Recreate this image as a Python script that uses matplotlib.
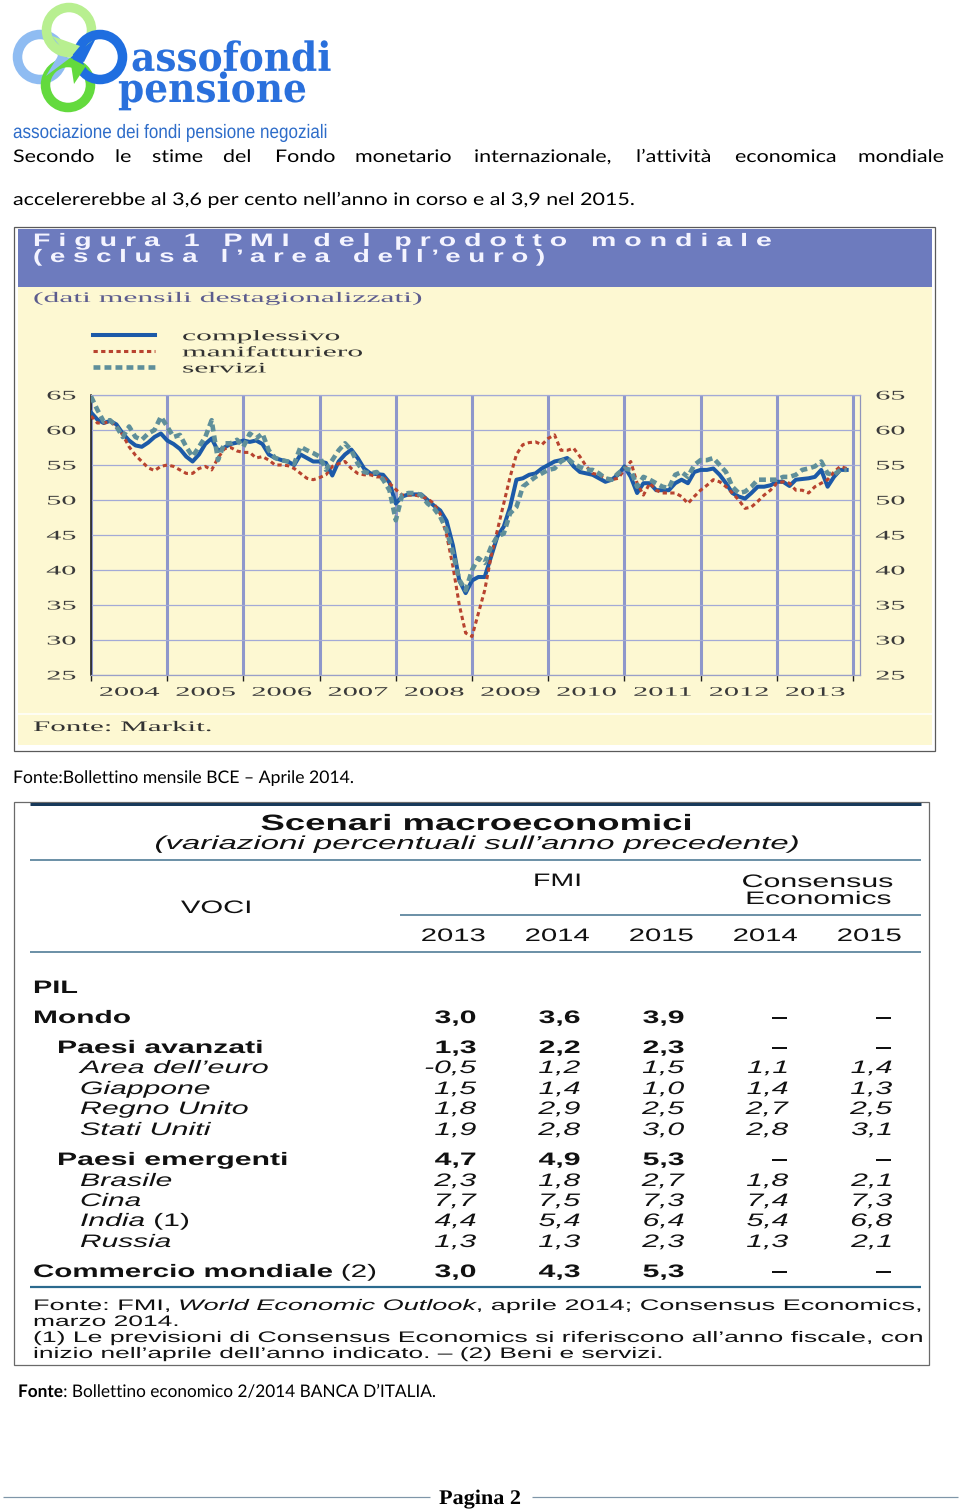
import numpy as np
import matplotlib
matplotlib.use('Agg')
import matplotlib.pyplot as plt
from matplotlib import patheffects as pe
from matplotlib.transforms import Affine2D
from matplotlib.patches import Rectangle, Circle, Polygon

# ---------------------------------------------------------------- data
years = list(range(2004, 2014))
year_labels = [str(y) for y in years]
y_ticks = [25, 30, 35, 40, 45, 50, 55, 60, 65]
legend_labels = ["complessivo", "manifatturiero", "servizi"]

complessivo = [
    62.5, 61.5, 61.0, 61.3, 60.8, 59.5, 58.5, 57.8, 57.6, 58.2, 59.0, 59.5,
    58.5, 58.0, 57.3, 56.2, 55.5, 56.5, 58.0, 58.8, 57.0, 57.5, 58.0, 58.2,
    58.5, 58.3, 58.5, 58.0, 56.5, 56.0, 55.7, 55.5, 55.0, 56.5, 56.0, 55.5,
    55.5, 55.3, 53.5, 55.5, 56.5, 57.2, 56.0, 54.5, 53.8, 53.7, 53.6, 52.5,
    49.5, 50.5, 50.8, 50.8, 50.8, 50.0, 49.2, 48.5, 47.0, 43.5, 38.5, 36.7,
    38.5, 39.0, 39.0, 41.9, 44.8, 46.2, 49.0, 52.9, 53.1, 53.6, 53.8, 54.5,
    55.0, 55.5, 55.7, 56.0, 54.8, 54.0, 53.8, 53.6, 53.1, 52.6, 52.9, 53.6,
    54.8, 53.3, 51.0, 52.4, 52.4, 51.4, 51.4, 51.4, 52.4, 52.9, 52.4, 54.0,
    54.3, 54.3, 54.5, 53.6, 52.4, 51.0, 50.5, 50.2, 51.0, 51.9, 51.9, 52.1,
    52.6, 52.6, 52.0, 52.9, 53.0, 53.1, 53.3, 54.3, 51.9, 53.3, 54.3, 54.3,
]
manifatturiero = [
    62.0, 61.0, 61.0, 61.2, 60.5, 59.3, 57.6, 56.4, 55.5, 54.6, 54.2, 54.8,
    55.0, 54.8, 54.3, 53.8, 53.8, 54.5, 54.8, 54.3, 56.0, 57.3, 57.5, 57.0,
    56.8, 56.8, 56.0, 56.2, 55.7, 55.0, 55.0, 54.9, 54.5, 53.8, 53.1, 52.9,
    53.2, 53.6, 54.8, 55.2, 55.5, 54.5, 53.8, 53.6, 53.6, 53.3, 53.3, 52.4,
    51.5, 50.7, 50.7, 50.7, 50.5, 50.2, 49.5, 48.0, 45.0, 40.5, 35.0, 31.0,
    30.5, 33.8, 37.1, 41.9, 45.7, 49.5, 53.3, 56.5, 57.9, 58.2, 58.3, 57.9,
    58.8, 59.3, 57.1, 57.1, 57.4, 56.2, 54.8, 53.8, 53.6, 53.1, 52.9, 53.1,
    54.3, 55.5, 52.4, 50.7, 52.4, 51.4, 51.0, 51.0, 51.0, 50.5, 49.5, 50.5,
    51.4, 52.1, 52.9, 52.6, 51.9, 51.0, 50.0, 48.8, 49.0, 49.8, 50.7, 51.4,
    52.4, 52.6, 52.4, 51.4, 51.4, 51.0, 51.9, 52.4, 52.9, 54.0, 54.8, 54.5,
]
servizi = [
    64.8, 62.9, 61.2, 61.4, 60.5, 59.0, 60.5, 59.0, 58.6, 59.5, 60.0, 61.9,
    60.5, 59.0, 59.3, 57.6, 56.2, 57.6, 59.0, 61.4, 55.7, 58.1, 58.1, 58.6,
    57.6, 59.5, 58.8, 59.5, 57.1, 56.0, 55.7, 55.5, 55.2, 57.6, 57.1, 56.7,
    56.2, 54.3, 55.7, 57.1, 58.1, 57.1, 55.2, 54.0, 53.8, 54.0, 52.9, 51.4,
    47.1, 50.7, 51.0, 51.0, 50.7, 49.5, 48.8, 47.6, 45.7, 42.4, 38.6, 37.1,
    40.0, 41.7, 41.0, 43.3, 44.8, 45.2, 48.1, 49.0, 51.9, 52.6, 53.3, 53.8,
    54.3, 54.5, 55.5, 56.0, 55.2, 54.7, 54.3, 54.3, 53.8, 53.1, 52.9, 53.8,
    54.5, 54.3, 51.9, 53.3, 52.9, 52.4, 51.9, 51.7, 53.6, 54.0, 53.3, 55.0,
    55.7, 55.7, 56.0, 55.0, 54.0, 51.9, 51.0, 51.2, 51.9, 52.9, 52.9, 52.9,
    52.9, 53.3, 53.3, 53.6, 54.3, 54.5, 54.8, 55.5, 53.8, 53.6, 54.3, 54.3,
]

voci = ["PIL", "Mondo", "Paesi avanzati", "Area dell’euro", "Giappone", "Regno Unito",
        "Stati Uniti", "Paesi emergenti", "Brasile", "Cina", "India", "Russia",
        "Commercio mondiale"]
voci_note = ["", "", "", "", "", "", "", "", "", "", "(1)", "", "(2)"]
voci_style = ["head", "bold", "bold", "it", "it", "it", "it", "bold", "it", "it", "it", "it", "bold"]
col_headers = ["2013", "2014", "2015", "2014", "2015"]
fmi_2013 = [None, 3.0, 1.3, -0.5, 1.5, 1.8, 1.9, 4.7, 2.3, 7.7, 4.4, 1.3, 3.0]
fmi_2014 = [None, 3.6, 2.2, 1.2, 1.4, 2.9, 2.8, 4.9, 1.8, 7.5, 5.4, 1.3, 4.3]
fmi_2015 = [None, 3.9, 2.3, 1.5, 1.0, 2.5, 3.0, 5.3, 2.7, 7.3, 6.4, 2.3, 5.3]
ce_2014 = [None, "–", "–", 1.1, 1.4, 2.7, 2.8, "–", 1.8, 7.4, 5.4, 1.3, "–"]
ce_2015 = [None, "–", "–", 1.4, 1.3, 2.5, 3.1, "–", 2.1, 7.3, 6.8, 2.1, "–"]

# ---------------------------------------------------------------- helpers
SANS = "Liberation Sans"
SERIF = "Liberation Serif"
BODY = "Lato"
W, H = 960, 1510


class Stretch(pe.AbstractPathEffect):
    """Draw text horizontally scaled by sx, keeping its alignment."""

    def __init__(self, sx, ha="left"):
        super().__init__((0.0, 0.0))
        self.sx = sx
        self.ha = ha

    def draw_path(self, renderer, gc, tpath, affine, rgbFace=None):
        M = np.array(affine.get_matrix(), dtype=float)
        ext = tpath.get_extents()
        w = ext.x1 * M[0, 0]
        M[0, 0] *= self.sx
        M[0, 1] *= self.sx
        if self.ha == "center":
            M[0, 2] -= (self.sx - 1) * w / 2
        elif self.ha == "right":
            M[0, 2] -= (self.sx - 1) * w
        renderer.draw_path(gc, tpath, Affine2D(M), rgbFace)


fig = plt.figure(figsize=(W / 100, H / 100), dpi=100)
fig.patch.set_facecolor("white")
page = fig.add_axes([0, 0, 1, 1])
page.set_xlim(0, W)
page.set_ylim(H, 0)
page.axis("off")
R = fig.canvas.get_renderer()


def nat_width(s, **kw):
    t = page.text(0, 0, s, **kw)
    w = t.get_window_extent(R).width
    t.remove()
    return w


def put(x, y, s, size, family=SANS, weight="normal", style="normal", color="#111111",
        ha="left", va="baseline", w=None, sx=None, zorder=5, **kw):
    t = page.text(x, y, s, fontsize=size, family=family, fontweight=weight,
                  fontstyle=style, color=color, ha=ha, va=va, zorder=zorder, **kw)
    if w is not None:
        sx = w / t.get_window_extent(R).width
    if sx is not None and abs(sx - 1) > 1e-3:
        t.set_path_effects([Stretch(sx, ha)])
    return sx


def runs(x, y, segs, size, w=None, sx=None, family=SANS, color="#111111"):
    items = []
    for s, wt, st, gap in segs:
        t = page.text(0, y, s, fontsize=size, family=family, fontweight=wt,
                      fontstyle=st, color=color, ha="left", va="baseline", zorder=5)
        items.append((t, t.get_window_extent(R).width, gap))
    sp = (nat_width("a a", fontsize=size, family=family)
          - nat_width("aa", fontsize=size, family=family))
    total = sum(n for _, n, _ in items) + sp * sum(1 for _, _, g in items if g)
    if w is not None:
        sx = w / total
    cx = x
    for t, n, g in items:
        if g:
            cx += sp * sx
        t.set_x(cx)
        t.set_path_effects([Stretch(sx, "left")])
        cx += n * sx
    return sx


def hline(y, x0, x1, color, lw_px, z=3):
    page.plot([x0, x1], [y, y], color=color, lw=lw_px * 0.72, solid_capstyle="butt", zorder=z)


# ---------------------------------------------------------------- logo
ring_specs = [((40, 57), "#8fbcf2"), ((69, 30), "#b8ef90"),
              ((68, 85), "#63da3d"), ((100, 57), "#1f6ee0")]
for (cx, cy), col in ring_specs:
    page.add_patch(Circle((cx, cy), 22.5, fill=False, ec=col, lw=9.5 * 0.72, zorder=2))
page.add_patch(Polygon([[70, 58], [96, 38], [84, 62]], closed=True, fc="#1f6ee0", ec="none", zorder=3))
page.add_patch(Polygon([[70, 58], [52, 36], [80, 46]], closed=True, fc="#b8ef90", ec="none", zorder=3))
page.add_patch(Polygon([[70, 58], [46, 76], [58, 56]], closed=True, fc="#8fbcf2", ec="none", zorder=3))
page.add_patch(Polygon([[70, 58], [74, 84], [86, 66]], closed=True, fc="#63da3d", ec="none", zorder=3))
LOGO_FS = 29
sx_logo = 200 / nat_width("assofondi", fontsize=LOGO_FS, family="DejaVu Serif", fontweight="bold")
put(118, 102, " assofondi\npensione", LOGO_FS, family="DejaVu Serif", weight="bold",
    color="#2a70dc", sx=sx_logo, linespacing=0.77, multialignment="left")
put(13, 138, "associazione dei fondi pensione negoziali", 14, family=SANS,
    color="#2d6cc9", w=317)

# ---------------------------------------------------------------- body text
sx_body = put(13, 205, "accelererebbe al 3,6 per cento nell’anno in corso e al 3,9 nel 2015.",
              12.5, family=BODY, color="#000000", w=625)
line1 = [("Secondo", 13), ("le", 115), ("stime", 152), ("del", 223), ("Fondo", 275),
         ("monetario", 355), ("internazionale,", 474), ("l’attività", 636),
         ("economica", 735), ("mondiale", 858)]
for word, x in line1:
    put(x, 162, word, 12.5, family=BODY, color="#000000", sx=sx_body)

# ---------------------------------------------------------------- chart frame
page.add_patch(Rectangle((13.5, 226.5), 921, 524, fc="white", ec="#5a5a5a", lw=0.9, zorder=1))
page.add_patch(Rectangle((18, 229), 914, 58, fc="#6d7bbe", ec="none", zorder=1.5))
page.add_patch(Rectangle((18, 287), 914, 458, fc="#fdf8d2", ec="none", zorder=1.5))
hline(714, 18, 932, "#ffffff", 1.5, z=1.6)

put(33, 246, " ".join("Figura 1 PMI del prodotto mondiale"), 13, weight="bold",
    color="#f4f4ff", w=737)
put(33, 262, " ".join("(esclusa l’area dell’euro)"), 13, weight="bold",
    color="#f4f4ff", w=510)
put(33, 302, "(dati mensili destagionalizzati)", 10.5, family=SERIF, color="#5c5c8e", w=387)
put(33, 731, "Fonte: Markit.", 10.5, family=SERIF, color="#333333", w=179)

# ---------------------------------------------------------------- chart
L, RR, T, B = 91, 860, 395, 675
ax = fig.add_axes([L / W, 1 - B / H, (RR - L) / W, (B - T) / H])
ax.patch.set_alpha(0)
months = 2004 + np.arange(len(complessivo)) / 12.0
c_blue, c_red, c_teal = "#1c5aa8", "#b8432f", "#5f8f9a"
hb, = ax.plot(months, complessivo, color=c_blue, lw=2.9, solid_joinstyle="round", zorder=3)
hr, = ax.plot(months, manifatturiero, color=c_red, lw=2.2, ls=(0, (1.4, 1.1)), zorder=4)
ht, = ax.plot(months, servizi, color=c_teal, lw=3.3, ls=(0, (1.5, 0.9)), zorder=5)

ax.set_xlim(2004, 2004 + (RR - L) / 76.2)
ax.set_ylim(25, 65)
ax.set_xticks(list(range(2004, 2015)))
ax.set_xticklabels([])
ax.set_xticks([y + 0.5 for y in years], labels=year_labels, minor=True)
ax.set_yticks(y_ticks, labels=[str(v) for v in y_ticks])
ax.grid(axis="x", which="major", color="#8e97cb", lw=2.2, zorder=1)
ax.grid(axis="y", which="major", color="#a3aad6", lw=0.9, zorder=1)
ax.set_axisbelow(True)
ax.tick_params(axis="x", which="major", length=4, width=1, color="#222222", direction="out")
ax.tick_params(axis="x", which="minor", length=0, pad=8.5, labelsize=9.5,
               labelcolor="#3a3a3a", labelfontfamily=SERIF)
ax.tick_params(axis="y", which="major", length=0, pad=11, labelsize=9.5, labelleft=True,
               labelright=True, labelcolor="#3a3a3a", labelfontfamily=SERIF)
for side, col, lw in [("left", "#111111", 1.1), ("right", "#8f94bb", 0.9),
                      ("top", "#a3aad6", 0.9), ("bottom", "#9aa0c8", 0.9)]:
    ax.spines[side].set_color(col)
    ax.spines[side].set_linewidth(lw)

sx_y = 30 / nat_width("65", fontsize=9.5, family=SERIF)
sx_x = 61 / nat_width("2004", fontsize=9.5, family=SERIF)
for tk in ax.yaxis.get_major_ticks():
    tk.label1.set_path_effects([Stretch(sx_y, "right")])
    tk.label2.set_path_effects([Stretch(sx_y, "left")])
for tk in ax.xaxis.get_minor_ticks():
    tk.label1.set_path_effects([Stretch(sx_x, "center")])

fs_leg = 10.5
fs_px = fs_leg * 100 / 72
leg = ax.legend(handles=[hb, hr, ht], labels=legend_labels, loc="upper left",
                bbox_to_anchor=(93 / W, 1 - 330 / H), bbox_transform=fig.transFigure,
                frameon=False, prop={"family": SERIF, "size": fs_leg},
                handlelength=62 / fs_px, handletextpad=27 / fs_px, labelspacing=0.2,
                borderpad=0, borderaxespad=0)
sx_leg = 158 / nat_width("complessivo", fontsize=fs_leg, family=SERIF)
for t in leg.get_texts():
    t.set_color("#333333")
    t.set_path_effects([Stretch(sx_leg, "left")])

# ---------------------------------------------------------------- source 1
put(13, 783, "Fonte:Bollettino mensile BCE – Aprile 2014.", 12.5, family=BODY,
    color="#000000", w=342)

# ---------------------------------------------------------------- table
page.add_patch(Rectangle((13.5, 801.5), 915, 563, fc="white", ec="#6a6a6a", lw=0.9, zorder=1))
hline(803.5, 30, 921, "#17395a", 3)
hline(860, 30, 921, "#3f6f8c", 1.5)
hline(915, 400, 921, "#3f6f8c", 1.5)
hline(952, 30, 921, "#3f6f8c", 1.5)
hline(1287, 30, 921, "#2b6a8e", 2.2)

put(476, 830, "Scenari macroeconomici", 16, weight="bold", ha="center", w=432)
put(476, 849, "(variazioni percentuali sull’anno precedente)", 13.5, style="italic",
    ha="center", w=643)
put(557, 886, "FMI", 13, ha="center", w=49)
put(817, 887, "Consensus", 13, ha="center", w=151)
put(818, 904, "Economics", 13, ha="center", w=146)
put(216, 913, "VOCI", 13, ha="center", w=71)
col_centers = [453, 557, 661, 765, 869]
sx_hdr = 65 / nat_width("2013", fontsize=13, family=SANS)
for cx, lab in zip(col_centers, col_headers):
    put(cx, 941, lab, 13, ha="center", sx=sx_hdr)

row_y = [987, 1017, 1047, 1067, 1088, 1108, 1129, 1159, 1180, 1200, 1220, 1241, 1271]
row_w = [45, 98, 206, 188, 130, 168, 130, 231, 92, 61, 110, 91, 344]
row_x = {"head": 33, "bold": 57, "it": 80}
col_right = [476, 580, 684, 788, 892]
sx_val = 42 / nat_width("3,0", fontsize=13, family=SANS, fontweight="bold")


def fmt(v):
    if v is None:
        return None
    if isinstance(v, str):
        return v
    return f"{v:.1f}".replace(".", ",")


for i, lab in enumerate(voci):
    st = voci_style[i]
    base = row_y[i] + 6
    x = row_x[st]
    if lab in ("Mondo", "Commercio mondiale"):
        x = 33
    weight = "bold" if st in ("head", "bold") else "normal"
    style = "italic" if st == "it" else "normal"
    if voci_note[i]:
        runs(x, base, [(lab, weight, style, False), (voci_note[i], "normal", "normal", True)],
             13, w=row_w[i])
    else:
        put(x, base, lab, 13, weight=weight, style=style, w=row_w[i])
    vals = [fmi_2013[i], fmi_2014[i], fmi_2015[i], ce_2014[i], ce_2015[i]]
    for j, v in enumerate(vals):
        s = fmt(v)
        if s is None:
            continue
        if s == "–":
            put(col_right[j] - 9, base, s, 13, weight="bold", ha="center", sx=sx_val)
        else:
            put(col_right[j], base, s, 13, weight=weight, style=style, ha="right", sx=sx_val)

# footnotes
sx_fn = put(33, 1358, "inizio nell’aprile dell’anno indicato. – (2) Beni e servizi.", 11,
            w=629)
runs(33, 1310, [("Fonte: FMI,", "normal", "normal", False),
                ("World Economic Outlook", "normal", "italic", True),
                (", aprile 2014; Consensus Economics,", "normal", "normal", False)],
     11, w=887)
put(33, 1326, "marzo 2014.", 11, sx=sx_fn)
put(33, 1342, "(1) Le previsioni di Consensus Economics si riferiscono all’anno fiscale, con",
    11, w=887)

# ---------------------------------------------------------------- source 2 + footer
runs(18, 1397, [("Fonte", "bold", "normal", False),
                (": Bollettino economico 2/2014 BANCA D’ITALIA.", "normal", "normal", False)],
     12.5, w=419, family=BODY, color="#000000")
hline(1497, 3, 430, "#7f96a8", 1.2)
hline(1497, 532, 958, "#7f96a8", 1.2)
put(480, 1504, "Pagina 2", 15, family=SERIF, weight="bold", ha="center", color="#000000", w=82)

fig.savefig("out.png", dpi=100, facecolor="white")
